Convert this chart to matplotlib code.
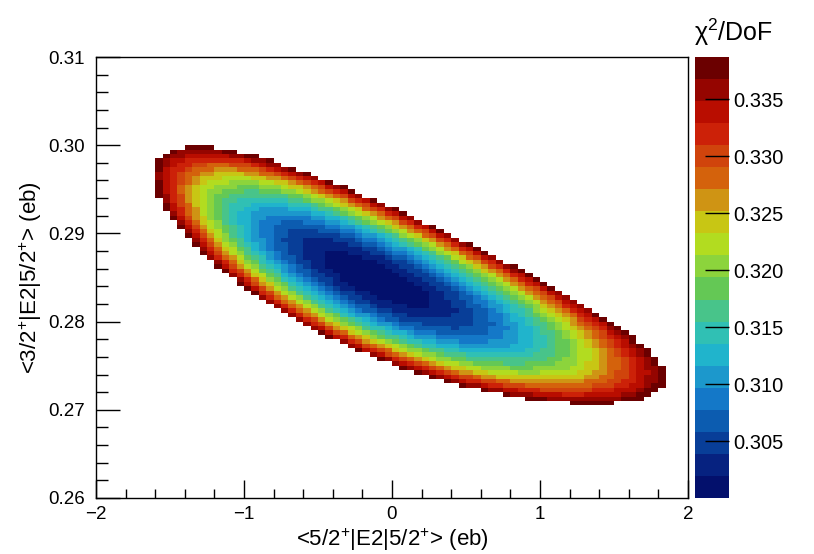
import numpy as np
import matplotlib.pyplot as plt
from matplotlib.colors import ListedColormap, BoundaryNorm

plt.rcParams['font.family'] = ['Liberation Sans', 'DejaVu Sans']
plt.rcParams['mathtext.fontset'] = 'custom'
plt.rcParams['mathtext.rm'] = 'Liberation Sans'
plt.rcParams['mathtext.it'] = 'Liberation Sans:italic'

# scan binning
x_edges = np.linspace(-2.0, 2.0, 81)
y_edges = np.linspace(0.26, 0.31, 101)

# chi2/DoF surface, shape
chi2_min = 0.3001
chi2_max = 0.3387
x_best = -0.115
y_best = 0.2848
y_per_x = 0.01678      # how much y one x unit is worth on screen
major_axis = 1.82
minor_axis = 0.49
tilt_deg = 24.3
skew = -0.20           # chi2 rises slower towards large x
bend = 0.037           # valley curves up at both ends

# palette, bottom to top
level_colors = ['#03106c', '#062280', '#083e98', '#0c5cb0', '#1478c8',
                '#1c98cc', '#20b4cc', '#30c0b4', '#48c48a', '#64c855',
                '#8cd43c', '#b2dc20', '#c8c614', '#cf9414', '#d4620c',
                '#d0440c', '#cc2108', '#b90d00', '#950500', '#6b0000']
cbar_ticks = [0.305, 0.310, 0.315, 0.320, 0.325, 0.330, 0.335]

xc = 0.5 * (x_edges[1:] + x_edges[:-1])
yc = 0.5 * (y_edges[1:] + y_edges[:-1])
X, Y = np.meshgrid(xc, yc)
dx = X - x_best
dy = (Y - y_best) / y_per_x
th = np.radians(tilt_deg)
u = dx * np.cos(th) - dy * np.sin(th)
v = dx * np.sin(th) + dy * np.cos(th)
v = v - bend * u**2
u = u / major_axis
v = v / minor_axis
chi2 = chi2_min + (chi2_max - chi2_min) * (u**2 + v**2 + skew * u**3)
chi2 = np.ma.masked_where(chi2 > chi2_max, chi2)

levels = np.linspace(0.3000, chi2_max, len(level_colors) + 1)
cmap = ListedColormap(level_colors)
norm = BoundaryNorm(levels, cmap.N)

fig = plt.figure(figsize=(8.14, 5.54), dpi=100)
ax = fig.add_axes([0.1179, 0.1011, 0.7273, 0.7960])
cax = fig.add_axes([0.8544, 0.1011, 0.0413, 0.7960])

mesh = ax.pcolormesh(x_edges, y_edges, chi2, cmap=cmap, norm=norm)
ax.set_xlim(-2, 2)
ax.set_ylim(0.26, 0.31)
ax.set_xticks([-2, -1, 0, 1, 2])
ax.set_xticks(np.arange(-2, 2.01, 0.2), minor=True)
ax.set_yticks([0.26, 0.27, 0.28, 0.29, 0.30, 0.31])
ax.set_yticklabels(['0.26', '0.27', '0.28', '0.29', '0.30', '0.31'])
ax.set_yticks(np.arange(0.26, 0.3101, 0.002), minor=True)
ax.tick_params(axis='both', which='both', direction='in', top=False, right=False,
               labelsize=13.5, width=1)
ax.tick_params(axis='y', which='major', length=17, pad=8)
ax.tick_params(axis='y', which='minor', length=8.5)
ax.tick_params(axis='x', which='major', length=13, pad=6)
ax.tick_params(axis='x', which='minor', length=6.5)
for s in ax.spines.values():
    s.set_linewidth(1)

ax.set_xlabel(r'<5/2$^{+}$|E2|5/2$^{+}$> (eb)', fontsize=16, labelpad=2)
ax.set_ylabel(r'<3/2$^{+}$|E2|5/2$^{+}$> (eb)', fontsize=16, labelpad=3)

cb = fig.colorbar(mesh, cax=cax, ticks=cbar_ticks, format='%.3f')
cb.outline.set_visible(False)
cax.tick_params(direction='in', length=17, width=1, labelsize=14.5, pad=3)
cax.minorticks_off()

fig.text(0.901, 0.942, r'χ$^{2}$/DoF', fontsize=18, ha='center', va='center')

fig.savefig('out.png', dpi=100)
